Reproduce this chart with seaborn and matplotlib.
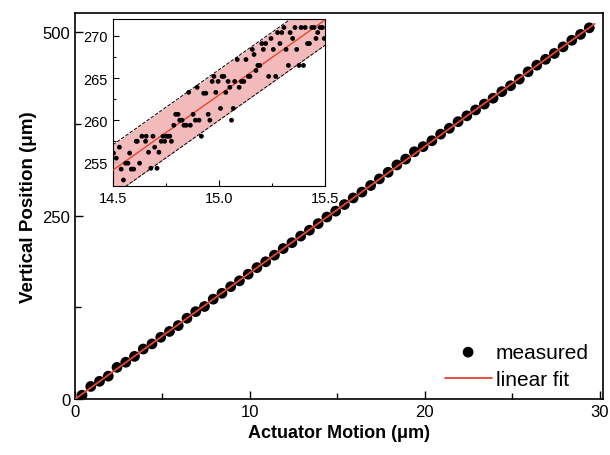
import matplotlib
matplotlib.use("Agg")
import matplotlib.pyplot as plt
import numpy as np
import seaborn as sns
import pandas as pd

# main measurement
motion = [0.4, 0.9, 1.4, 1.9, 2.4, 2.9, 3.4, 3.9, 4.4, 4.9, 5.4, 5.9, 6.4, 6.9, 7.4,
          7.9, 8.4, 8.9, 9.4, 9.9, 10.4, 10.9, 11.4, 11.9, 12.4, 12.9, 13.4, 13.9, 14.4,
          14.9, 15.4, 15.9, 16.4, 16.9, 17.4, 17.9, 18.4, 18.9, 19.4, 19.9, 20.4, 20.9,
          21.4, 21.9, 22.4, 22.9, 23.4, 23.9, 24.4, 24.9, 25.4, 25.9, 26.4, 26.9, 27.4,
          27.9, 28.4, 28.9, 29.4]
position = [5, 17, 24, 31, 43, 50, 58, 68, 75, 84, 92, 100, 110, 119, 126,
            136, 144, 153, 161, 170, 179, 187, 196, 205, 213, 222, 230, 239, 248,
            256, 265, 274, 282, 291, 300, 309, 319, 327, 337, 344, 352, 361,
            369, 378, 386, 394, 402, 410, 419, 427, 436, 446, 455, 463, 471,
            480, 489, 497, 506]

# zoomed measurement (inset)
zoom_x = [14.503, 14.516, 14.531, 14.539, 14.55, 14.56, 14.571, 14.579, 14.587, 14.598,
          14.61, 14.615, 14.626, 14.637, 14.654, 14.657, 14.668, 14.679, 14.689, 14.697,
          14.708, 14.717, 14.728, 14.736, 14.744, 14.752, 14.76, 14.768, 14.776, 14.787,
          14.796, 14.807, 14.815, 14.826, 14.835, 14.846, 14.857, 14.865, 14.878, 14.889,
          14.897, 14.906, 14.917, 14.928, 14.938, 14.949, 14.957, 14.968, 14.976, 14.985,
          14.996, 15.007, 15.015, 15.023, 15.032, 15.043, 15.051, 15.059, 15.067, 15.074,
          15.086, 15.095, 15.106, 15.117, 15.127, 15.138, 15.146, 15.157, 15.165, 15.174,
          15.183, 15.192, 15.202, 15.209, 15.22, 15.234, 15.245, 15.256, 15.267, 15.276,
          15.287, 15.296, 15.306, 15.316, 15.327, 15.335, 15.347, 15.358, 15.366, 15.377,
          15.387, 15.398, 15.406, 15.417, 15.426, 15.437, 15.448, 15.457, 15.465, 15.476,
          15.487, 15.496]
zoom_y = [256.1, 255.5, 256.8, 254.2, 252.9, 254.9, 254.9, 256.1, 254.2, 254.2,
          257.5, 257.5, 254.9, 258.1, 257.5, 258.1, 256.2, 254.3, 258.1, 256.8,
          254.3, 256.2, 257.5, 258.1, 257.5, 258.1, 258.1, 258.1, 257.5, 259.4,
          260.7, 260.7, 260.0, 260.0, 259.4, 259.4, 263.3, 259.4, 260.7, 260.0,
          263.9, 260.0, 258.1, 263.2, 263.2, 260.7, 260.0, 264.6, 265.2, 263.3,
          264.6, 261.4, 265.2, 265.2, 263.3, 264.6, 263.9, 260.0, 261.4, 264.6,
          267.2, 263.9, 264.6, 264.6, 267.2, 265.2, 265.2, 268.4, 267.8, 265.9,
          266.5, 266.5, 269.1, 268.4, 269.1, 265.2, 269.7, 268.4, 265.2, 270.4,
          269.1, 270.4, 271.0, 268.4, 266.5, 270.4, 269.7, 271.0, 268.4, 266.5,
          271.0, 266.5, 271.0, 269.1, 269.1, 271.0, 271.0, 269.7, 270.4, 271.0,
          271.0, 269.7]
band_halfwidth = 3.0

sns.set_style("ticks")
plt.rcParams['font.family'] = ['Liberation Sans', 'DejaVu Sans']
plt.rcParams['xtick.direction'] = 'in'
plt.rcParams['ytick.direction'] = 'in'
plt.rcParams['text.color'] = 'black'
plt.rcParams['axes.labelcolor'] = 'black'
plt.rcParams['xtick.color'] = 'black'
plt.rcParams['ytick.color'] = 'black'
plt.rcParams['axes.edgecolor'] = 'black'

fig = plt.figure(figsize=(6.1, 4.56), dpi=100)
ax = fig.add_axes([0.123, 0.123, 0.866, 0.846])

main = pd.DataFrame({'x': motion, 'y': position})
sns.scatterplot(data=main, x='x', y='y', ax=ax, color='black', s=60,
                edgecolor='none', label='measured', zorder=2)
k, b = np.polyfit(motion, position, 1)
xf = np.array([0, motion[-1] + 0.3])
ax.plot(xf, k * xf + b, color='#e8452c', lw=1.3, label='linear fit', zorder=3)

ax.set_xlim(0, 30.2)
ax.set_ylim(0, 526)
ax.set_xticks([0, 10, 20, 30])
ax.set_xticks([5, 15, 25], minor=True)
ax.set_yticks([0, 250, 500])
ax.set_yticks([125, 375], minor=True)
ax.tick_params(which='major', labelsize=12, length=6, width=1)
ax.tick_params(which='minor', length=4, width=1)
ax.set_xlabel('Actuator Motion (μm)', fontsize=13, fontweight='bold')
ax.set_ylabel('Vertical Position (μm)', fontsize=13.5, fontweight='bold')
for sp in ax.spines.values():
    sp.set_linewidth(1.2)
ax.legend(loc='lower right', frameon=False, fontsize=15, handlelength=2.25,
          bbox_to_anchor=(1.0, -0.012), borderaxespad=0.3, handletextpad=0.2,
          labelspacing=0.4)

# inset
ins = fig.add_axes([0.185, 0.59, 0.348, 0.366])
zk, zb = np.polyfit(zoom_x, zoom_y, 1)
zx = np.array([14.5, 15.5])
zfit = zk * zx + zb
ins.fill_between(zx, zfit - band_halfwidth, zfit + band_halfwidth, color='#f2b3b5',
                 alpha=0.9, lw=0, zorder=1)
ins.plot(zx, zfit + band_halfwidth, color='black', ls='--', lw=0.7, zorder=2)
ins.plot(zx, zfit - band_halfwidth, color='black', ls='--', lw=0.7, zorder=2)
ins.plot(zx, zfit, color='#e8452c', lw=1.0, zorder=3)
sns.scatterplot(x=zoom_x, y=zoom_y, ax=ins, color='black', s=12, edgecolor='none',
                zorder=4)
ins.set_xlim(14.5, 15.5)
ins.set_ylim(252.2, 272)
ins.set_xticks([14.5, 15.0, 15.5])
ins.set_xticks([14.75, 15.25], minor=True)
ins.set_yticks([255, 260, 265, 270])
ins.set_yticks([257.5, 262.5, 267.5], minor=True)
ins.tick_params(which='major', labelsize=10.5, length=4, width=0.8)
ins.tick_params(which='minor', length=2.5, width=0.8)
ins.set_xlabel('')
ins.set_ylabel('')

fig.savefig('out.png', dpi=100)
